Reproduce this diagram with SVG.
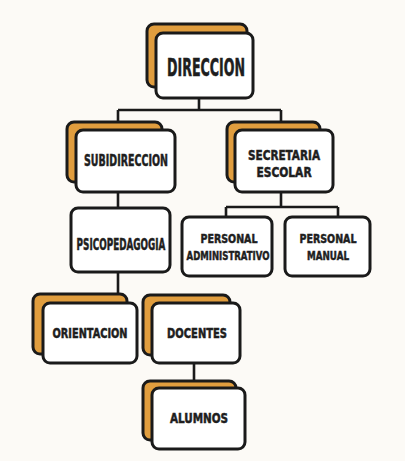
<svg xmlns="http://www.w3.org/2000/svg" width="405" height="461" viewBox="0 0 405 461">
<style>
.bg{fill:#fcfaf6}
.back{fill:#e09d3e;stroke:#1a1a1a;stroke-width:3}
.front{fill:#ffffff;stroke:#1a1a1a;stroke-width:3}
.ln{fill:none;stroke:#1a1a1a;stroke-width:2.6}
text{font-family:"DejaVu Sans Condensed","Liberation Sans",sans-serif;font-weight:bold;fill:#1e1e1e;stroke:#1e1e1e;stroke-width:0.5;text-anchor:middle}
.t1{font-size:24px}
.t2{font-size:16px}
.t2b{font-size:14px}
.t3{font-size:13.5px}
.t4{font-size:13px}
</style>
<rect class="bg" x="0" y="0" width="405" height="461"/>
<g id="connectors">
<path class="ln" d="M199 98 V110 M118 110 H281 M118 110 V130 M281 110 V130"/>
<path class="ln" d="M118 192 V208"/>
<path class="ln" d="M281 192 V207 M226 207 H338 M226 207 V217 M338 207 V217"/>
<path class="ln" d="M118 272 V295"/>
<path class="ln" d="M194 363 V388"/>
</g>
<g id="direccion">
<rect class="back" x="147" y="24" width="100" height="63" rx="7"/>
<rect class="front" x="156" y="33" width="97" height="65" rx="7"/>
<text class="t1" transform="translate(206 76) scale(0.6 1)" textLength="130" lengthAdjust="spacingAndGlyphs">DIRECCION</text>
</g>
<g id="subdireccion">
<rect class="back" x="67" y="122" width="95" height="60" rx="7"/>
<rect class="front" x="76" y="130" width="99" height="62" rx="7"/>
<text class="t2" transform="translate(126 166) scale(0.6 1)" textLength="140" lengthAdjust="spacingAndGlyphs">SUBIDIRECCION</text>
</g>
<g id="secretaria">
<rect class="back" x="227" y="122" width="93" height="60" rx="7"/>
<rect class="front" x="235" y="130" width="98" height="62" rx="7"/>
<text class="t2b" transform="translate(284 160) scale(0.6 1)" textLength="120" lengthAdjust="spacingAndGlyphs">SECRETARIA</text>
<text class="t2b" transform="translate(284 177) scale(0.6 1)" textLength="92" lengthAdjust="spacingAndGlyphs">ESCOLAR</text>
</g>
<g id="psicopedagogia">
<rect class="front" x="71" y="208" width="99" height="64" rx="7"/>
<text class="t2" transform="translate(121 250) scale(0.6 1)" textLength="148" lengthAdjust="spacingAndGlyphs">PSICOPEDAGOGIA</text>
</g>
<g id="personal-administrativo">
<rect class="front" x="182" y="217" width="90" height="59" rx="7"/>
<text class="t4" transform="translate(229 242.5) scale(0.6 1)" textLength="95" lengthAdjust="spacingAndGlyphs">PERSONAL</text>
<text class="t4" transform="translate(228 260) scale(0.6 1)" textLength="138" lengthAdjust="spacingAndGlyphs">ADMINISTRATIVO</text>
</g>
<g id="personal-manual">
<rect class="front" x="285" y="217" width="85" height="59" rx="7"/>
<text class="t4" transform="translate(328 242.5) scale(0.6 1)" textLength="95" lengthAdjust="spacingAndGlyphs">PERSONAL</text>
<text class="t4" transform="translate(328 260) scale(0.6 1)" textLength="70" lengthAdjust="spacingAndGlyphs">MANUAL</text>
</g>
<g id="orientacion">
<rect class="back" x="33" y="294" width="94" height="60" rx="7"/>
<rect class="front" x="43" y="303" width="94" height="60" rx="7"/>
<text class="t3" transform="translate(90 338) scale(0.6 1)" textLength="125" lengthAdjust="spacingAndGlyphs">ORIENTACION</text>
</g>
<g id="docentes">
<rect class="back" x="143" y="295" width="87" height="60" rx="7"/>
<rect class="front" x="152" y="303" width="88" height="60" rx="7"/>
<text class="t3" transform="translate(197 338) scale(0.6 1)" textLength="100" lengthAdjust="spacingAndGlyphs">DOCENTES</text>
</g>
<g id="alumnos">
<rect class="back" x="143" y="381" width="93" height="59" rx="7"/>
<rect class="front" x="152" y="388" width="93" height="61" rx="7"/>
<text class="t3" transform="translate(199 423) scale(0.6 1)" textLength="97" lengthAdjust="spacingAndGlyphs">ALUMNOS</text>
</g>
</svg>
